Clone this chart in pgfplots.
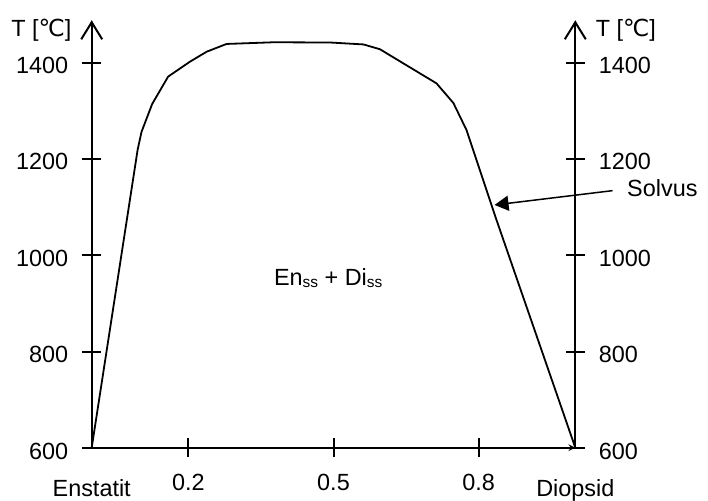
\documentclass[border=0pt]{standalone}
\usepackage{pgfplots}
\pgfplotsset{compat=1.18}
\usepackage{fontspec}
\setmainfont{Liberation Sans}
\newfontfamily\dejavu{DejaVu Sans}
\usetikzlibrary{arrows.meta}
\newcommand{\degC}{{\dejavu ℃}}
\newcommand{\sub}[1]{\raisebox{-2.5bp}{\fontsize{15.5}{16}\selectfont #1}}
\begin{document}
\fontsize{23.5}{27}\selectfont
\begin{tikzpicture}
\pgfplotsset{
 common/.style={
  scale only axis, width=483.6bp, height=427.3bp,
  xmin=0,xmax=1,ymin=600,ymax=1489,
  clip=false,
  ytick={600,800,1000,1200,1400},
  yticklabels={},
  xticklabels={},
  major tick length=19bp, tick align=center,
  tick style={line width=2bp, black},
  axis line style={line width=2bp, -},
  every outer x axis line/.style={line width=2bp, -},
  every outer y axis line/.style={line width=2bp, -},
 }
}
\begin{axis}[common, axis x line=bottom, axis y line=left,
  xtick={0.2,0.5,0.8}]
\addplot[line width=1.8bp, black, mark=none] coordinates {
(0,600) (0.095,1220) (0.103,1257) (0.125,1315) (0.158,1372) (0.203,1403) (0.238,1424) (0.279,1440)
(0.376,1443.5) (0.493,1443) (0.562,1439) (0.596,1429) (0.713,1358) (0.748,1317) (0.775,1261)
(0.837,1074) (1,600)};
\coordinate (O) at (axis cs:0,600);
\draw[line width=2bp, -{Straight Barb[length=17bp,width=21bp,line width=2bp]}] (axis cs:0,1300) -- (axis cs:0,1489);
\draw[line width=2bp, -{Straight Barb[length=17bp,width=21bp,line width=2bp]}] (axis cs:1,1300) -- (axis cs:1,1489);
% tick labels
\node[anchor=base east, inner sep=0] at (axis cs:-0.0484,1378) {1400};
\node[anchor=base east, inner sep=0] at (axis cs:-0.0484,1178) {1200};
\node[anchor=base east, inner sep=0] at (axis cs:-0.0484,978) {1000};
\node[anchor=base east, inner sep=0] at (axis cs:-0.0484,778) {800};
\node[anchor=base east, inner sep=0] at (axis cs:-0.0484,576) {600};
\node[anchor=base west, inner sep=0] at (axis cs:1.0484,1378) {1400};
\node[anchor=base west, inner sep=0] at (axis cs:1.0484,1178) {1200};
\node[anchor=base west, inner sep=0] at (axis cs:1.0484,978) {1000};
\node[anchor=base west, inner sep=0] at (axis cs:1.0484,778) {800};
\node[anchor=base west, inner sep=0] at (axis cs:1.0484,576) {600};
\node[anchor=base, inner sep=0] at (axis cs:0.2,510.5) {0.2};
\node[anchor=base, inner sep=0] at (axis cs:0.5,510.5) {0.5};
\node[anchor=base, inner sep=0] at (axis cs:0.8,510.5) {0.8};
\node[anchor=base, inner sep=0] at (axis cs:0,499.5) {Enstatit};
\node[anchor=base, inner sep=0] at (axis cs:1,499.5) {Diopsid};
\node[anchor=base east, inner sep=0] at (axis cs:-0.0414,1456) {T [\degC]};
\node[anchor=base west, inner sep=0] at (axis cs:1.042,1456) {T [\degC]};
\node[anchor=base, inner sep=0] at (axis cs:0.489,938) {En\sub{ss} + Di\sub{ss}};
\draw[line width=1.5bp, -{Triangle[length=14bp,width=15bp]}] (axis cs:1.077,1134.8) -- (axis cs:0.833,1105);
\node[anchor=base west, inner sep=0] at (axis cs:1.107,1122) {Solvus};
\end{axis}
\begin{axis}[common, axis x line=none, axis y line=right]
\end{axis}
\pgfresetboundingbox
\path[use as bounding box] (O) ++(-91.7bp,-53.3bp) rectangle ++(708bp,501bp);
\end{tikzpicture}
\end{document}
